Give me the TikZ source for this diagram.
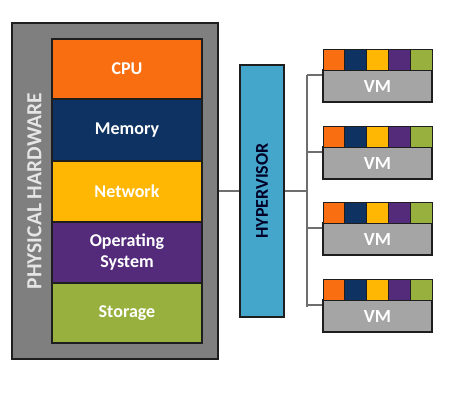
\documentclass[tikz,border=0pt]{standalone}
\usepackage{fontspec}
\setmainfont{Carlito}
\definecolor{cpuc}{HTML}{F96E10}
\definecolor{memc}{HTML}{0E3262}
\definecolor{netc}{HTML}{FFB703}
\definecolor{osc}{HTML}{542A7B}
\definecolor{stoc}{HTML}{97B03E}
\definecolor{hwc}{HTML}{7F7F7F}
\definecolor{hypc}{HTML}{45A6CC}
\definecolor{vmc}{HTML}{A5A5A5}
\definecolor{linec}{HTML}{6E6E6E}
\definecolor{edgec}{HTML}{1E1E1E}
\begin{document}
\begin{tikzpicture}[x=1pt,y=-1pt,
  blk/.style={draw=edgec,line width=1.2pt,inner sep=0pt,minimum width=150pt,text=white,font=\fontsize{18}{21}\selectfont\bfseries,align=center},
  cell/.style={draw=edgec,line width=1pt,inner sep=0pt,minimum width=21.8pt,minimum height=21pt},
  vmbody/.style={draw=edgec,fill=vmc,line width=1.2pt,inner sep=0pt,minimum width=109pt,minimum height=32pt,text=white,font=\fontsize{18.5}{21}\selectfont\bfseries},
  wire/.style={draw=linec,line width=1.2pt}]
\useasboundingbox[fill=white] (0,0) rectangle (458,407);
\node[draw=edgec,fill=hwc,line width=1.5pt,minimum width=206pt,minimum height=336pt,inner sep=0pt] (hw) at (115,191) {};
\node[blk,fill=cpuc,minimum height=60pt] (cpu) at (127,69) {CPU};
\node[blk,fill=memc,minimum height=62pt] (mem) at (127,130) {Memory};
\node[blk,fill=netc,minimum height=61pt] (net) at (127,191.5) {Network};
\node[blk,fill=osc,minimum height=61pt] (os) at (127,252.5) {Operating\\System};
\node[blk,fill=stoc,minimum height=60pt] (sto) at (127,313) {Storage};
\node[rotate=90,text=white!90!black,font=\fontsize{21.5}{24}\selectfont\bfseries,inner sep=0pt] (hwlabel) at (34.5,191) {PHYSICAL HARDWARE};
\node[draw=edgec,fill=hypc,line width=1.2pt,minimum width=44pt,minimum height=252pt,inner sep=0pt] (hyp) at (262,191) {};
\node[rotate=90,text=black!85!blue,font=\fontsize{18}{21}\selectfont\bfseries,inner sep=0pt] (hyplabel) at (hyp.center) {HYPERVISOR};
\coordinate (bus) at (307,191);
\coordinate (bustop) at (307,75);
\coordinate (busbot) at (307,307);
\draw[wire] (hw.east) -- (hyp.west);
\draw[wire] (hyp.east) -- (bus);
\draw[wire] (bustop) -- (busbot);
\foreach \i/\t in {1/49,2/126,3/202,4/279}{
  \node[vmbody] (vm\i) at (377.5,\t+37) {VM};
  \foreach \j/\c in {0/cpuc,1/memc,2/netc,3/osc,4/stoc}{
    \node[cell,fill=\c] (vm\i c\j) at (323+10.9+\j*21.8,\t+10.5) {};
  }
  \coordinate (br\i) at (307,\t+26);
  \draw[wire] (br\i) -- (br\i -| vm\i.west);
}
\end{tikzpicture}
\end{document}
